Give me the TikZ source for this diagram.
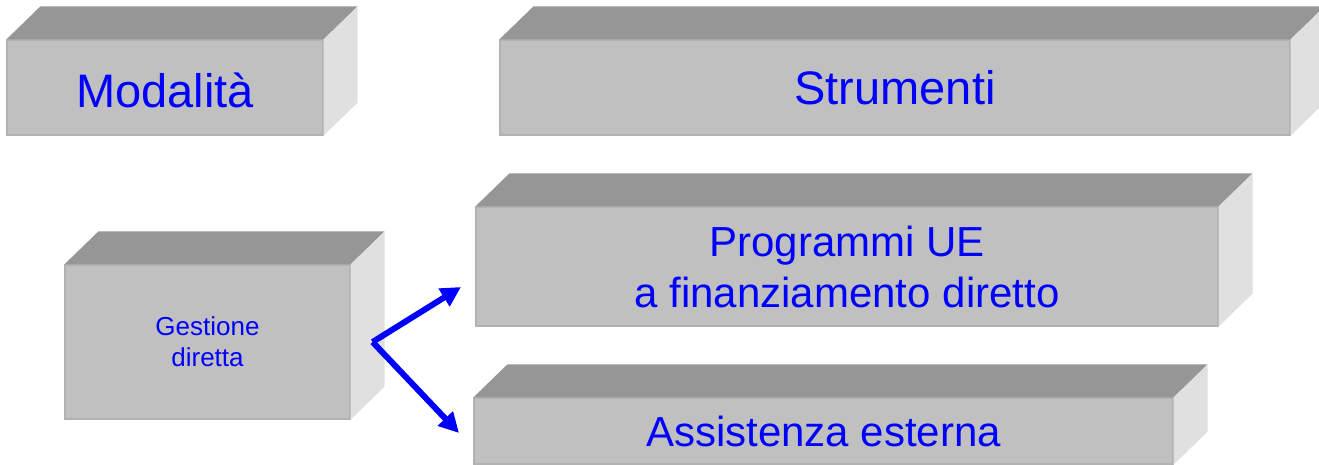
\documentclass[tikz,border=0pt]{standalone}
\usepackage{fontspec}
\setmainfont{Liberation Sans}
\usetikzlibrary{calc,arrows.meta}
\definecolor{facetop}{RGB}{150,150,150}
\definecolor{facefront}{RGB}{192,192,192}
\definecolor{faceside}{RGB}{224,224,224}
\definecolor{faceedge}{RGB}{178,178,178}
\tikzset{
  front/.style={rectangle, fill=facefront, draw=faceedge, line width=0.6pt,
    inner sep=0pt, text=blue, align=center,
    font=\fontsize{21}{25.5}\selectfont},
  title/.style={font=\fontsize{23.5}{28}\selectfont},
  small/.style={font=\fontsize{13}{15.5}\selectfont},
  link/.style={draw=blue, line width=3pt, -{Triangle[length=10pt,width=10pt]}}
}
\newcommand{\cuboid}[1]{%
  \fill[facetop] (#1.north west) -- ++(17,-16.5) -- ($(#1.north east)+(17,-16.5)$) -- (#1.north east) -- cycle;
  \fill[faceside] (#1.north east) -- ++(17,-16.5) -- ($(#1.south east)+(17,-16.5)$) -- (#1.south east) -- cycle;}
\begin{document}
\begin{tikzpicture}[x=1pt,y=-1pt]
  \useasboundingbox (0,0) rectangle (659.5,232.5);
  \node[front,title,minimum width=158pt,minimum height=47.5pt,text height=20.5pt,text depth=0pt] (moda) at (82.5,43.75) {Modalità};
  \node[front,title,minimum width=395pt,minimum height=47.5pt] (strum) at (447.5,43.75) {Strumenti};
  \node[front,minimum width=371pt,minimum height=59.5pt] (prog) at (423.5,133.25) {Programmi UE\\a finanziamento diretto};
  \node[front,minimum width=349.5pt,minimum height=33pt] (assist) at (411.75,215.5) {Assistenza esterna};
  \node[front,small,minimum width=142.5pt,minimum height=77pt] (gest) at (103.75,171) {Gestione\\diretta};
  \cuboid{moda}
  \cuboid{strum}
  \cuboid{prog}
  \cuboid{assist}
  \cuboid{gest}
  \coordinate (fork) at ($(gest.east)+(11,0)$);
  \coordinate (tipprog) at (230.5,143.5);
  \coordinate (tipassist) at (229.5,216.5);
  \draw[link] (fork) -- (tipprog);
  \draw[link] (fork) -- (tipassist);
\end{tikzpicture}
\end{document}
